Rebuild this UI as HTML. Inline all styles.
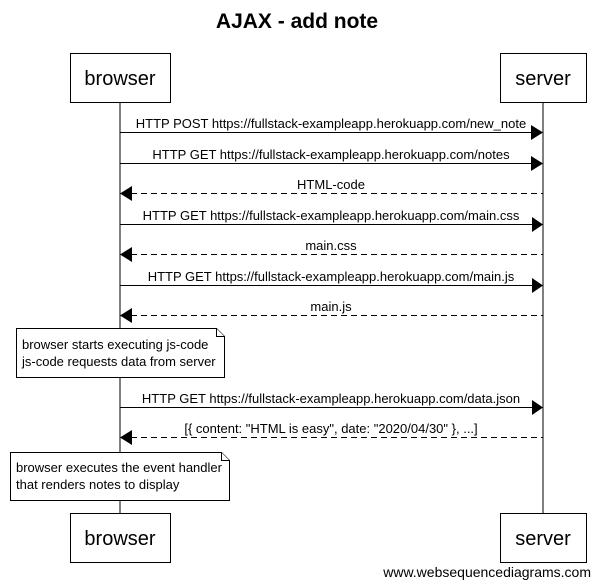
<!DOCTYPE html>
<html><head><meta charset="utf-8"><style>body{margin:0;background:#fff}svg{display:block}</style></head><body>
<svg width="601" height="587" xmlns="http://www.w3.org/2000/svg" font-family="Liberation Sans, Arial, sans-serif">
<text x="297" y="28" font-size="21" font-weight="bold" text-anchor="middle">AJAX - add note</text>
<g stroke="#000" fill="#fff">
<line x1="120" y1="102" x2="120" y2="513"/>
<line x1="543" y1="102" x2="543" y2="513"/>
<rect x="70.5" y="53.5" width="100" height="49"/>
<rect x="500.5" y="53.5" width="86" height="49"/>
<rect x="70.5" y="513.5" width="100" height="49"/>
<rect x="500.5" y="513.5" width="86" height="49"/>
<path d="M16.5 328.5H216.5L224.5 336.5V377.5H16.5Z"/><path d="M216.5 328.5V336.5H224.5"/>
<path d="M10.5 452.5H221.5L229.5 460.5V500.5H10.5Z"/><path d="M221.5 452.5V460.5H229.5"/>
</g>
<g font-size="20" text-anchor="middle">
<text x="120" y="85">browser</text><text x="543" y="85">server</text>
<text x="120" y="545">browser</text><text x="543" y="545">server</text>
</g>
<g stroke="#000">
<line x1="120" y1="132.5" x2="532" y2="132.5"/>
<line x1="120" y1="163.5" x2="532" y2="163.5"/>
<line x1="131" y1="193.5" x2="543" y2="193.5" stroke-dasharray="6,4"/>
<line x1="120" y1="224.5" x2="532" y2="224.5"/>
<line x1="131" y1="254.5" x2="543" y2="254.5" stroke-dasharray="6,4"/>
<line x1="120" y1="285.5" x2="532" y2="285.5"/>
<line x1="131" y1="315.5" x2="543" y2="315.5" stroke-dasharray="6,4"/>
<line x1="120" y1="407.5" x2="532" y2="407.5"/>
<line x1="131" y1="437.5" x2="543" y2="437.5" stroke-dasharray="6,4"/>
</g>
<g fill="#000">
<path d="M531 125L543 132.5L531 140Z"/><path d="M531 156L543 163.5L531 171Z"/>
<path d="M532 217L543 224.5L532 232Z"/><path d="M532 278L543 285.5L532 293Z"/>
<path d="M532 400L543 407.5L532 415Z"/>
<path d="M132 186L120 193.5L132 201Z"/><path d="M132 247L120 254.5L132 262Z"/>
<path d="M132 308L120 315.5L132 323Z"/><path d="M132 430L120 437.5L132 445Z"/>
</g>
<g font-size="13" text-anchor="middle">
<text x="331" y="128">HTTP POST https://fullstack-exampleapp.herokuapp.com/new_note</text>
<text x="331" y="159">HTTP GET https://fullstack-exampleapp.herokuapp.com/notes</text>
<text x="331" y="189">HTML-code</text>
<text x="331" y="220">HTTP GET https://fullstack-exampleapp.herokuapp.com/main.css</text>
<text x="331" y="250">main.css</text>
<text x="331" y="281">HTTP GET https://fullstack-exampleapp.herokuapp.com/main.js</text>
<text x="331" y="311">main.js</text>
<text x="331" y="403">HTTP GET https://fullstack-exampleapp.herokuapp.com/data.json</text>
<text x="331" y="433">[{ content: "HTML is easy", date: "2020/04/30" }, ...]</text>
</g>
<g font-size="13">
<text x="22" y="349">browser starts executing js-code</text>
<text x="22" y="366">js-code requests data from server</text>
<text x="16" y="472">browser executes the event handler</text>
<text x="16" y="489">that renders notes to display</text>
</g>
<text x="591" y="577" font-size="14" text-anchor="end">www.websequencediagrams.com</text>
</svg>
</body></html>
